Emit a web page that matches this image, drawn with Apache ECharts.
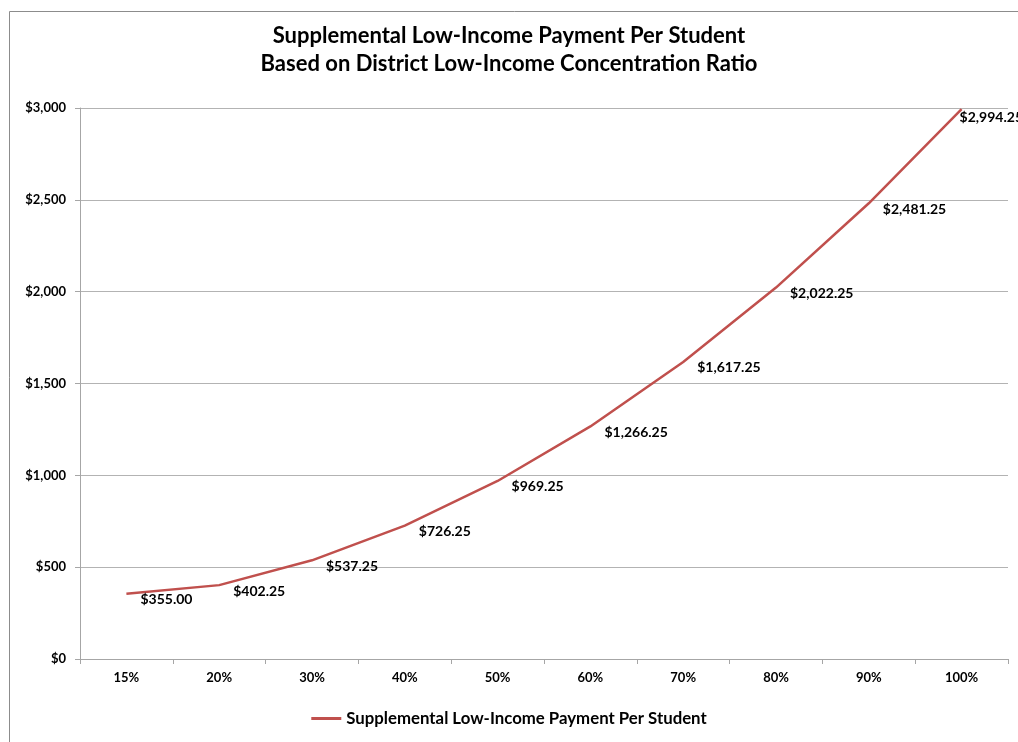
<!DOCTYPE html>
<html>
<head>
<meta charset="utf-8">
<script src="https://cdn.jsdelivr.net/npm/echarts@6/dist/echarts.min.js"></script>
<style>
html,body{margin:0;padding:0;background:#fff;}
#chart{width:1018px;height:742px;}
</style>
</head>
<body>
<div id="chart"></div>
<script>
const categories = ['15%','20%','30%','40%','50%','60%','70%','80%','90%','100%'];
const payments = [355.00, 402.25, 537.25, 726.25, 969.25, 1266.25, 1617.25, 2022.25, 2481.25, 2994.25];
const seriesName = 'Supplemental Low-Income Payment Per Student';
const titleLines = ['Supplemental Low-Income Payment Per Student', 'Based on District Low-Income Concentration Ratio'];

const FONT = 'Lato, "Open Sans", sans-serif';
const RED = '#C0504D';
function money(v, dec) {
  return '$' + v.toLocaleString('en-US', {minimumFractionDigits: dec, maximumFractionDigits: dec});
}

const chart = echarts.init(document.getElementById('chart'), null, {renderer: 'canvas'});
chart.setOption({
  animation: false,
  backgroundColor: '#fff',
  graphic: [{
    type: 'rect', left: 7, top: 9, shape: {width: 1100, height: 1000},
    style: {fill: 'none', stroke: '#8c8c8c', lineWidth: 1}, z: -1
  }],
  title: {
    text: titleLines.join('\n'),
    left: 'center', top: 17,
    textStyle: {fontFamily: FONT, fontWeight: 'bold', fontSize: 22, color: '#000', lineHeight: 28}
  },
  grid: {left: 80, right: 10, top: 108, bottom: 83, containLabel: false},
  legend: {
    bottom: 10, left: 'center',
    icon: 'rect', itemWidth: 30, itemHeight: 3, itemGap: 4,
    textStyle: {fontFamily: FONT, fontWeight: 'bold', fontSize: 16.8, color: '#000'},
    data: [{name: seriesName, itemStyle: {color: RED, opacity: 1}}]
  },
  xAxis: {
    type: 'category', data: categories, boundaryGap: true,
    axisLine: {lineStyle: {color: '#a6a6a6', width: 1}},
    axisTick: {show: true, length: 5, lineStyle: {color: '#a6a6a6'}, interval: 0},
    axisLabel: {fontFamily: FONT, fontWeight: 'bold', fontSize: 13, color: '#000', margin: 12}
  },
  yAxis: {
    type: 'value', min: 0, max: 3000, interval: 500,
    axisLine: {show: true, lineStyle: {color: '#a6a6a6', width: 1}},
    axisTick: {show: true, length: 5, lineStyle: {color: '#a6a6a6'}},
    splitLine: {lineStyle: {color: '#b3b3b3', width: 1}},
    axisLabel: {fontFamily: FONT, fontWeight: 'bold', fontSize: 13, color: '#000', margin: 14,
      formatter: v => money(v, 0)}
  },
  series: [{
    name: seriesName, type: 'line', symbol: 'circle', symbolSize: 0, showSymbol: true,
    smooth: false,
    lineStyle: {color: RED, width: 2.5},
    itemStyle: {color: RED},
    data: payments.map((v, i) => i === payments.length - 1
      ? {value: v, label: {offset: [-16, 8]}}
      : {value: v}),
    label: {
      show: true, position: 'right', distance: 14, offset: [0, 6],
      fontFamily: FONT, fontWeight: 'bold', fontSize: 14, color: '#000',
      formatter: p => money(p.value, 2)
    }
  }]
});
</script>
</body>
</html>
